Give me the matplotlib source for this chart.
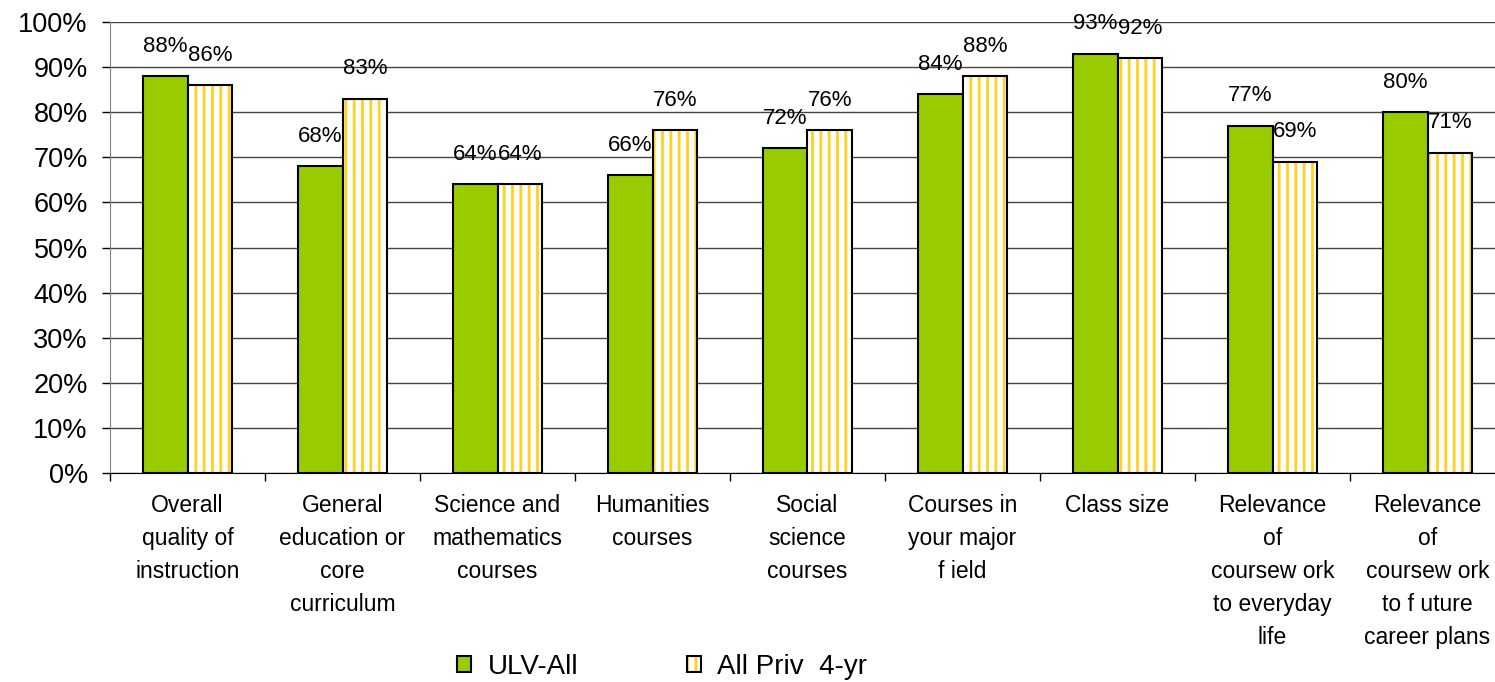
import matplotlib
matplotlib.use("Agg")
import matplotlib.pyplot as plt
import matplotlib.patches as mpatches
import numpy as np

categories = [
    "Overall\nquality of\ninstruction",
    "General\neducation or\ncore\ncurriculum",
    "Science and\nmathematics\ncourses",
    "Humanities\ncourses",
    "Social\nscience\ncourses",
    "Courses in\nyour major\nf ield",
    "Class size",
    "Relevance\nof\ncoursew ork\nto everyday\nlife",
    "Relevance\nof\ncoursew ork\nto f uture\ncareer plans",
]
ulv_all = [88, 68, 64, 66, 72, 84, 93, 77, 80]
priv_4yr = [86, 83, 64, 76, 76, 88, 92, 69, 71]
series_names = ["ULV-All", "All Priv  4-yr"]

GREEN = "#99CC00"
YELLOW = "#FFD21F"

plt.rcParams["font.family"] = ["Liberation Sans", "DejaVu Sans"]
plt.rcParams["hatch.linewidth"] = 2.0
plt.rcParams["hatch.color"] = YELLOW

fig = plt.figure(figsize=(14.95, 6.82), dpi=100)
ax = fig.add_axes([110 / 1495, 1 - 473 / 682, 1395 / 1495, 451 / 682])

x = np.arange(len(categories))
w = 0.29

green_bars = ax.bar(x - w / 2, ulv_all, w, color=GREEN, edgecolor="black",
                    linewidth=1.5, zorder=3)
# striped bars: yellow hatch on white, then a black outline on top
ax.bar(x + w / 2, priv_4yr, w, color="white", edgecolor=YELLOW, hatch="||",
       linewidth=0, zorder=3)
ax.bar(x + w / 2, priv_4yr, w, fill=False, edgecolor="black", linewidth=1.5,
       zorder=4)

for xi, v in zip(x - w / 2, ulv_all):
    ax.text(xi, v + 4.3, f"{v}%", ha="center", va="bottom", fontsize=16)
for xi, v in zip(x + w / 2, priv_4yr):
    ax.text(xi, v + 4.3, f"{v}%", ha="center", va="bottom", fontsize=16)

ax.set_xlim(-0.5, len(categories) - 0.5)
ax.set_ylim(0, 100)
ax.set_yticks(np.arange(0, 101, 10))
ax.set_yticklabels([f"{t}%" for t in range(0, 101, 10)], fontsize=19.5)
ax.yaxis.grid(True, color="#444444", linewidth=1.0, zorder=0)
ax.set_axisbelow(True)

ax.set_xticks(x)
ax.set_xticklabels(categories, fontsize=16.5, linespacing=1.56)
ax.tick_params(axis="x", length=0, pad=15)
ax.set_xticks(np.arange(-0.5, len(categories), 1), minor=True)
ax.tick_params(axis="x", which="minor", length=6, color="black", width=1)
ax.tick_params(axis="y", length=6, color="black", width=1, pad=10)

for side in ("top", "right"):
    ax.spines[side].set_visible(False)
ax.spines["left"].set_color("#808080")
ax.spines["bottom"].set_color("black")

h1 = mpatches.Patch(facecolor=GREEN, edgecolor="black", linewidth=1.5)
h2_fill = mpatches.Patch(facecolor="white", edgecolor=YELLOW, hatch="||",
                         linewidth=0)
h2_edge = mpatches.Patch(fill=False, edgecolor="black", linewidth=1.5)
fig.legend([h1, (h2_fill, h2_edge)], series_names, loc="center",
           bbox_to_anchor=(0.443, 0.022), ncol=2, frameon=False, fontsize=20,
           handlelength=0.5, handleheight=0.5, columnspacing=3.9,
           handletextpad=0.6)

fig.savefig("out.png", dpi=100)
